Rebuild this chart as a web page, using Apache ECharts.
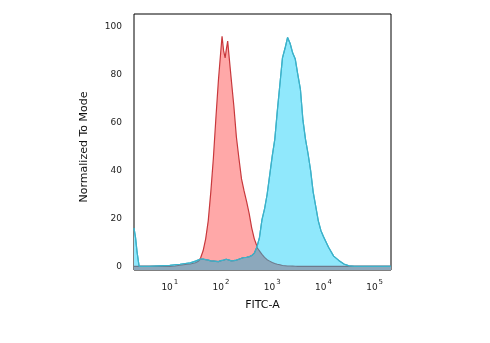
<!DOCTYPE html>
<html>
<head>
<meta charset="utf-8">
<script src="https://cdn.jsdelivr.net/npm/echarts@6/dist/echarts.min.js"></script>
<style>
html,body{margin:0;padding:0;background:#fff;}
#chart{width:490px;height:343px;}
</style>
</head>
<body>
<div id="chart"></div>
<script>
// log10(FITC-A) positions
var logX = [0.30,0.33,0.36,0.40,0.50,0.60,0.70,0.80,0.90,1.00,1.10,1.20,1.30,1.40,1.50,1.55,1.60,1.65,1.70,1.75,1.80,1.85,1.90,1.95,2.00,2.02,2.05,2.08,2.10,2.13,2.16,2.20,2.25,2.30,2.35,2.40,2.45,2.50,2.55,2.60,2.65,2.70,2.75,2.80,2.85,2.90,2.95,3.00,3.05,3.10,3.15,3.20,3.25,3.30,3.35,3.40,3.45,3.50,3.55,3.60,3.65,3.70,3.75,3.80,3.85,3.90,3.95,4.00,4.10,4.20,4.30,4.40,4.50,4.60,4.80,5.00,5.20,5.32];
// isotype control (red)
var isotype = [0,0,0,0,0,0,0,0,0,0,0.2,0.5,0.8,1.0,1.5,2.0,3.5,6.5,11.5,19,31,45,62,78,91,96,90,87,90,94,87,78,67,54,45,36.5,31.5,27,22,16,11.5,8.5,6.5,5.0,3.8,2.8,2.2,1.6,1.2,0.9,0.7,0.4,0.3,0.2,0.15,0.1,0.05,0,0,0,0,0,0,0,0,0,0,0,0,0,0,0,0,0,0,0,0,0];
// antibody stained (blue)
var stained = [16,12,6,0,0,0,0.1,0.2,0.3,0.4,0.7,0.9,1.2,1.5,2.2,2.6,3.0,3.0,2.8,2.6,2.3,2.2,2.1,2.0,2.4,2.5,2.6,2.8,3.0,2.9,2.6,2.3,2.4,2.6,3.0,3.4,3.7,3.8,4.0,4.5,5.5,8.0,12,19.5,24,30,38,46,53,65,76,87,91,95.5,93,89,86.5,80,74,61,53,47,40,31,25,19,15,12.5,8.0,4.3,2.5,1.0,0.2,0,0,0,0,0];
var xTicks = [1,2,3,4,5];
var yTicks = [0,20,40,60,80,100];

function pairs(vals){ return logX.map(function(x,i){ return [x, vals[i]]; }); }
var overlap = logX.map(function(x,i){ return [x, Math.min(isotype[i], stained[i])]; });

var chart = echarts.init(document.getElementById('chart'), null, {renderer:'canvas'});
var font = 'DejaVu Sans';
chart.setOption({
  animation:false,
  backgroundColor:'#fff',
  grid:{left:134, right:99, top:14, bottom:73, show:true, borderColor:'#000', borderWidth:1, backgroundColor:'transparent'},
  xAxis:{
    type:'value', min:0.3, max:5.32,
    name:'FITC-A', nameLocation:'middle', nameGap:30,
    nameTextStyle:{fontFamily:font, fontSize:11, color:'#111'},
    axisLine:{show:false}, axisTick:{show:false}, splitLine:{show:false},
    axisLabel:{
      customValues:xTicks, margin:9,
      fontFamily:font, color:'#222',
      formatter:function(v){ return '{b|10}{s|' + v + '}'; },
      rich:{
        b:{fontFamily:font, fontSize:9, color:'#222', verticalAlign:'bottom', padding:[4,0,0,0]},
        s:{fontFamily:font, fontSize:7, color:'#222', verticalAlign:'top', padding:[0,0,5,1]}
      }
    }
  },
  yAxis:{
    type:'value', min:-1.5, max:105.3,
    name:'Normalized To Mode', nameLocation:'middle', nameGap:44,
    nameTextStyle:{fontFamily:font, fontSize:11, color:'#111', padding:[0,10,0,0]},
    axisLine:{show:false}, axisTick:{show:false}, splitLine:{show:false},
    axisLabel:{customValues:yTicks, margin:12, fontFamily:font, fontSize:9, color:'#222'}
  },
  series:[
    {type:'line', name:'Isotype', data:pairs(isotype), symbol:'none', z:2,
     lineStyle:{color:'#c8383c', width:1.2},
     areaStyle:{color:'#ffa8a8', opacity:1, origin:'start'}},
    {type:'line', name:'Stained', data:pairs(stained), symbol:'none', z:3,
     lineStyle:{color:'#3cb2ca', width:1.2},
     areaStyle:{color:'#90e8fc', opacity:1, origin:'start'}},
    {type:'line', name:'Overlap', data:overlap, symbol:'none', z:4,
     lineStyle:{color:'#6d7a8c', width:1.1},
     areaStyle:{color:'#8ca8bc', opacity:1, origin:'start'}},
    {type:'line', name:'StainedLine', data:pairs(stained), symbol:'none', z:5,
     lineStyle:{color:'#3cb2ca', width:1.2}}
  ]
});
</script>
</body>
</html>
